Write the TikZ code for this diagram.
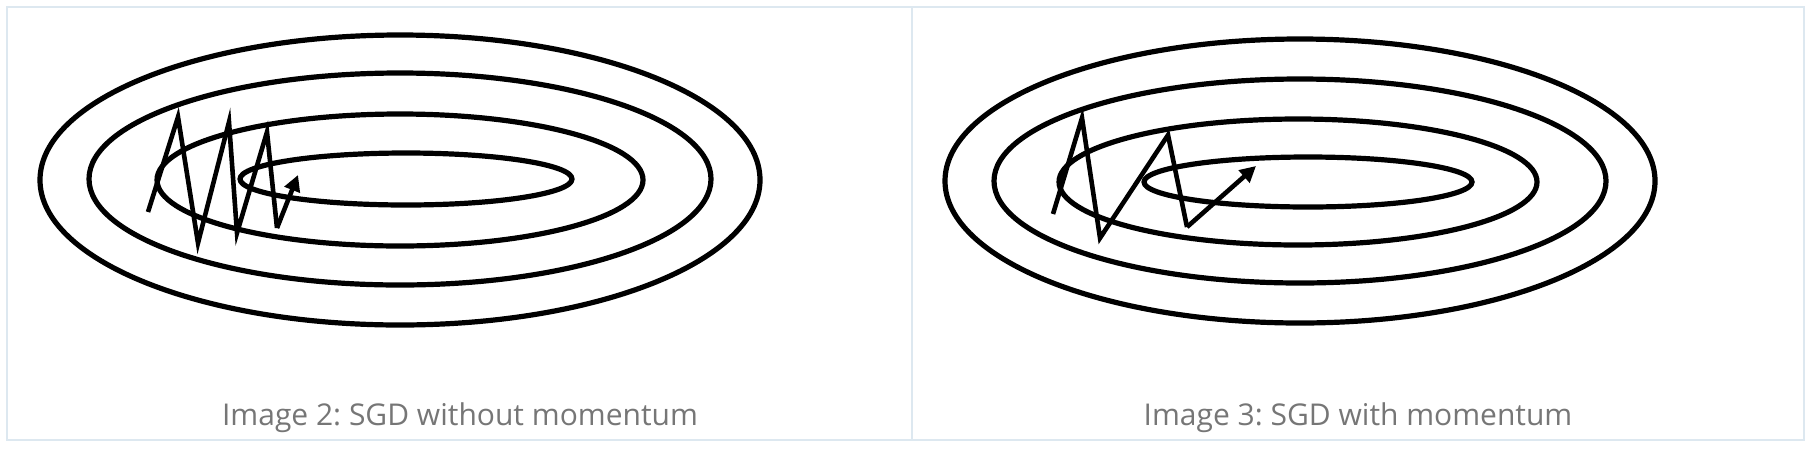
\documentclass[tikz,border=0pt]{standalone}
\usepackage{fontspec}
\setmainfont{Open Sans}
\usetikzlibrary{arrows.meta}
\definecolor{frameblue}{RGB}{221,232,240}
\definecolor{captiongray}{RGB}{118,118,118}
\tikzset{
  contour/.style={black, line width=2.6pt},
  path/.style={black, line width=2.3pt},
  caption/.style={anchor=base, text=captiongray, font=\fontsize{15}{18}\selectfont}
}
\begin{document}
\frenchspacing
\begin{tikzpicture}[x=0.5pt, y=-0.5pt]
\useasboundingbox (0,0) rectangle (1813,451);

%kehys
\draw[frameblue, line width=1pt] (7,7) rectangle (1804,440);
\draw[frameblue, line width=1pt] (912,7) -- (912,440);

%ilman momenttia
\draw[contour] (400,180) circle[x radius=360, y radius=145];
\draw[contour] (400,179) circle[x radius=311, y radius=106];
\draw[contour] (400,180) circle[x radius=243, y radius=66];
\draw[contour] (406,179) circle[x radius=166, y radius=26];
\coordinate (p1) at (148,212);
\coordinate (p2) at (178,117);
\coordinate (p3) at (198,243);
\coordinate (p4) at (229,122);
\coordinate (p5) at (237,233);
\coordinate (p6) at (267,132);
\coordinate (p7) at (277,228);
\coordinate (pend) at (298,175);
\draw[path] (p1) -- (p2) -- (p3) -- (p4) -- (p5) -- (p6) -- (p7);
\draw[path, -{Triangle[length=8pt, width=8pt]}] (p7) -- (pend);
\node[caption] (capnomom) at (460,425) {Image 2: SGD without momentum};

%momentin kanssa
\draw[contour] (1300,181) circle[x radius=355, y radius=142];
\draw[contour] (1300,181) circle[x radius=306, y radius=102];
\draw[contour] (1298,182) circle[x radius=239, y radius=63];
\draw[contour] (1308,182) circle[x radius=164, y radius=25];
\coordinate (q1) at (1053,214);
\coordinate (q2) at (1082,118);
\coordinate (q3) at (1100,238);
\coordinate (q4) at (1168,135);
\coordinate (q5) at (1187,227);
\coordinate (qend) at (1256,166);
\draw[path] (q1) -- (q2) -- (q3) -- (q4) -- (q5);
\draw[path, -{Triangle[length=8pt, width=8pt]}] (q5) -- (qend);
\node[caption] (capmom) at (1358,425) {Image 3: SGD with momentum};

\end{tikzpicture}
\end{document}
